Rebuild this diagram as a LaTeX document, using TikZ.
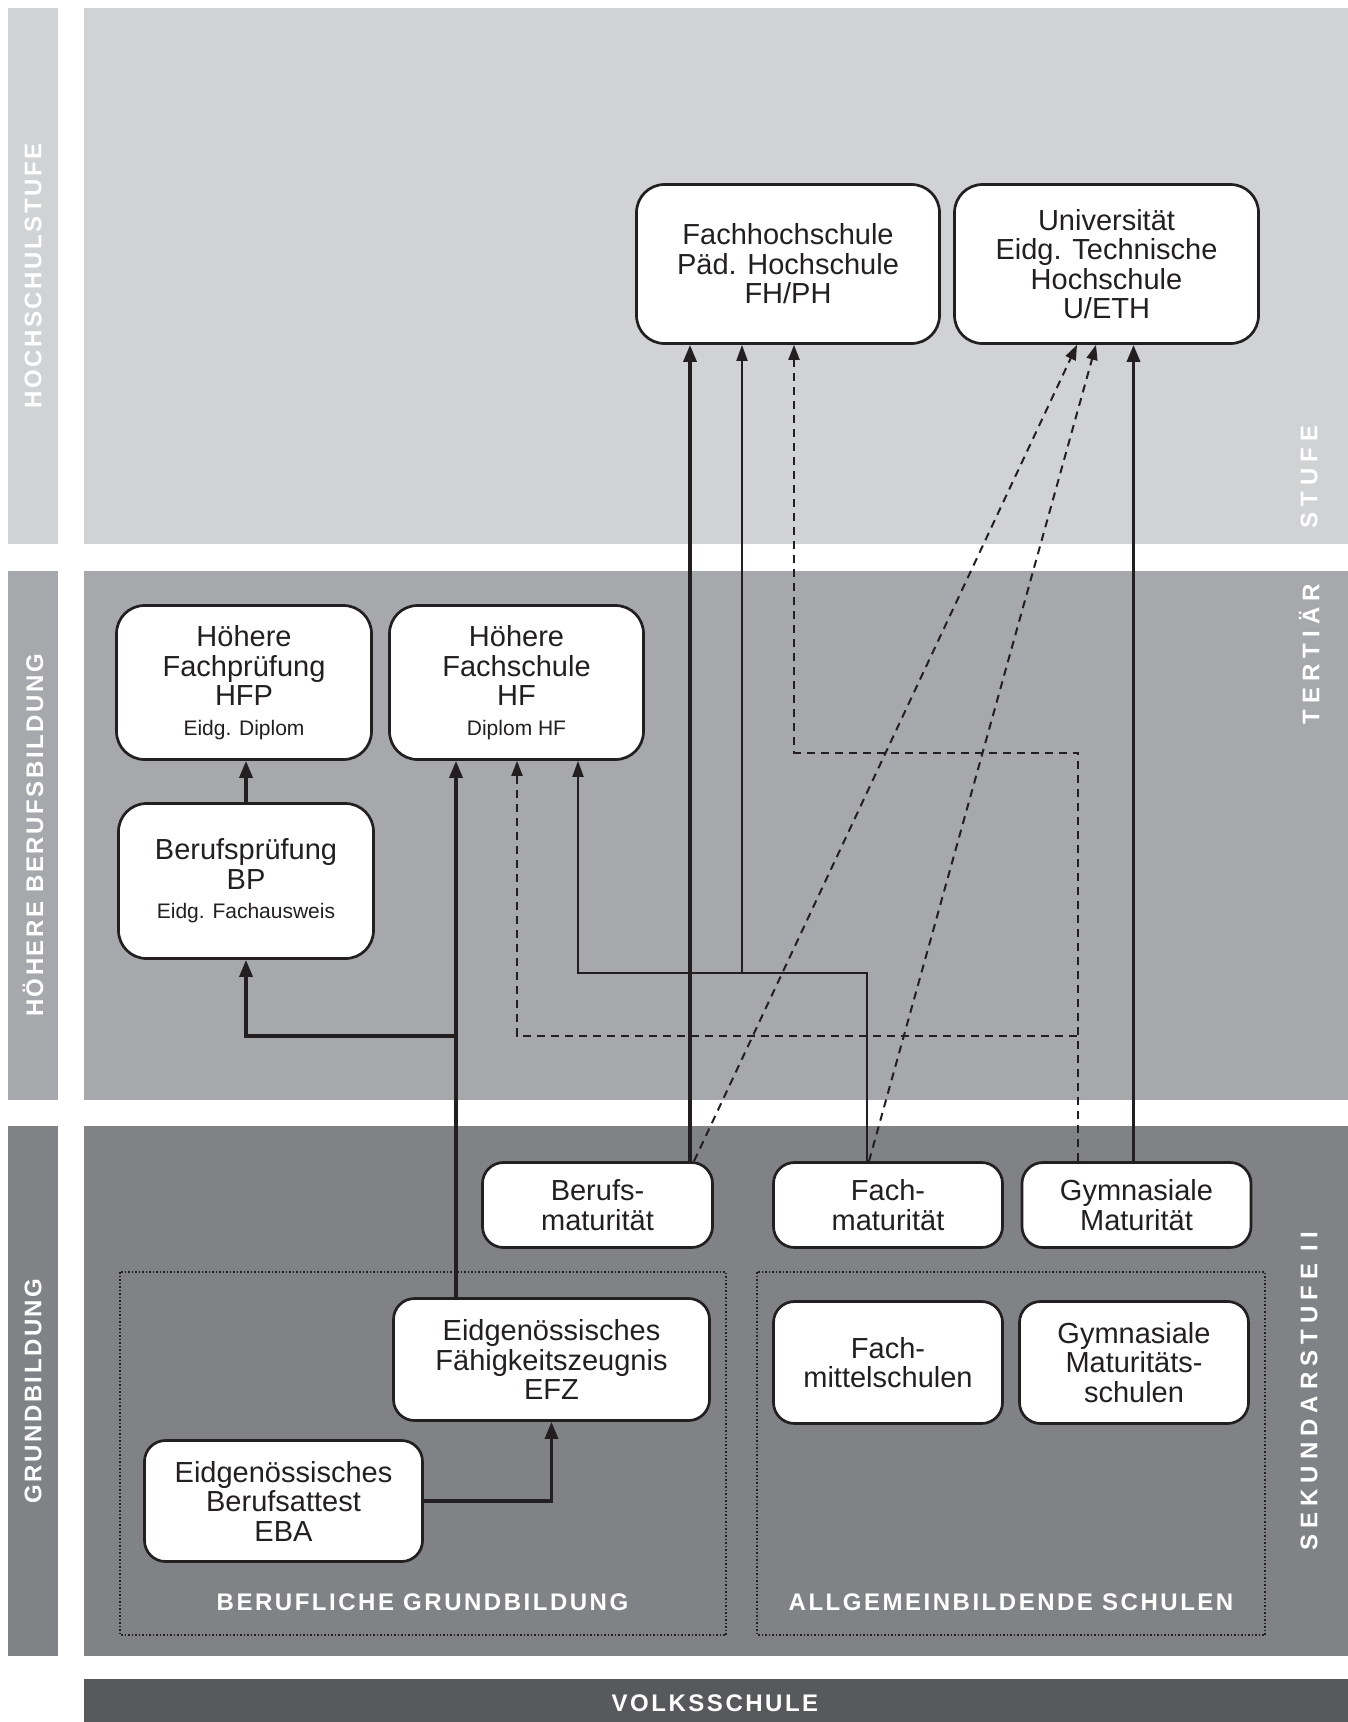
\documentclass[tikz,border=0pt]{standalone}
\usepackage{fontspec}
\setmainfont{Liberation Sans}
\newfontfamily\trackA[LetterSpace=10.5]{Liberation Sans Bold}
\newfontfamily\trackB[LetterSpace=25]{Liberation Sans Bold}
\usetikzlibrary{arrows.meta}
\definecolor{bandA}{HTML}{D1D2D4}
\definecolor{bandB}{HTML}{A7A8AB}
\definecolor{bandC}{HTML}{808285}
\definecolor{bandD}{HTML}{58595B}
\definecolor{ink}{HTML}{231F20}
\begin{document}
\begin{tikzpicture}[x=1pt,y=-1pt,
  box/.style={draw=ink, line width=2.7pt, fill=white, rounded corners=28pt, align=center,
    inner sep=0pt, text=ink, font=\fontsize{29}{29.5}\selectfont},
  sbox/.style={box, rounded corners=21pt},
  thickarr/.style={draw=ink, line width=3.4pt, -{Triangle[length=17pt,width=13pt]}},
  thinarr/.style={draw=ink, line width=2pt, -{Triangle[length=16pt,width=11pt]}},
  dasharr/.style={draw=ink, line width=2pt, dash pattern=on 8pt off 6pt, -{Triangle[length=15pt,width=11pt]}},
  grp/.style={draw=ink, line width=1.5pt, dash pattern=on 1.5pt off 2pt},
  lab/.style={text=white, inner sep=0pt, font=\trackA\fontsize{24}{24}\selectfont},
  rlab/.style={text=white, inner sep=0pt, rotate=90, font=\trackB\fontsize{24}{24}\selectfont},
]
\useasboundingbox (0,0) rectangle (1348,1722);
\fill[white] (0,0) rectangle (1348,1722);
% bands
\fill[bandA] (8,8) rectangle (58,544);
\fill[bandA] (84,8) rectangle (1348,544);
\fill[bandB] (8,571) rectangle (58,1100);
\fill[bandB] (84,571) rectangle (1348,1100);
\fill[bandC] (8,1126) rectangle (58,1656);
\fill[bandC] (84,1126) rectangle (1348,1656);
\fill[bandD] (84,1679) rectangle (1348,1722);
% band labels
\node[lab, rotate=90] (lhs) at (33,276) {HOCHSCHULSTUFE};
\node[lab, rotate=90] (lhb) at (33,835.5) {HÖHERE BERUFSBILDUNG};
\node[lab, rotate=90] (lgb) at (33,1391) {GRUNDBILDUNG};
\node[rlab] (rst) at (1309,477) {STUFE};
\node[rlab] (rte) at (1309,654) {TERTIÄR};
\node[rlab] (rsk) at (1309,1391) {SEKUNDARSTUFE II};
\node[lab] (lvs) at (715,1703) {VOLKSSCHULE};
% group frames
\draw[grp] (120,1272) rectangle (726,1635);
\draw[grp] (757,1272) rectangle (1265,1635);
\node[lab] (lbg) at (422.5,1602) {BERUFLICHE GRUNDBILDUNG};
\node[lab] (las) at (1011,1602) {ALLGEMEINBILDENDE SCHULEN};
% boxes
\node[box, minimum width=303pt, minimum height=159pt] (fh) at (788,264)
  {Fachhochschule\\Päd. Hochschule\\FH/PH};
\node[box, minimum width=304pt, minimum height=159pt] (uni) at (1106.5,264)
  {Universität\\Eidg. Technische\\Hochschule\\U/ETH};
\node[box, minimum width=255pt, minimum height=154pt] (hfp) at (244,682.5)
  {Höhere\\Fachprüfung\\HFP\\{\fontsize{21}{29.5}\selectfont Eidg. Diplom}};
\node[box, minimum width=254pt, minimum height=154pt] (hf) at (516.5,682.5)
  {Höhere\\Fachschule\\HF\\{\fontsize{21}{29.5}\selectfont Diplom HF}};
\node[box, minimum width=255pt, minimum height=155pt] (bp) at (246,881)
  {Berufsprüfung\\BP\\{\fontsize{21}{30.5}\selectfont Eidg. Fachausweis}};
\node[sbox, minimum width=230pt, minimum height=85pt] (bm) at (597.5,1205)
  {Berufs-\\maturität};
\node[sbox, minimum width=229pt, minimum height=85pt] (fm) at (888,1205)
  {Fach-\\maturität};
\node[sbox, minimum width=229pt, minimum height=85pt] (gm) at (1136.5,1205)
  {Gymnasiale\\Maturität};
\node[sbox, minimum width=316pt, minimum height=122pt] (efz) at (551.5,1359.5)
  {Eidgenössisches\\Fähigkeitszeugnis\\EFZ};
\node[sbox, minimum width=278pt, minimum height=121pt] (eba) at (283.5,1501)
  {Eidgenössisches\\Berufsattest\\EBA};
\node[sbox, minimum width=229pt, minimum height=122pt] (fms) at (888,1362.5)
  {Fach-\\mittelschulen};
\node[sbox, minimum width=229pt, minimum height=122pt] (gms) at (1134,1362.5)
  {Gymnasiale\\Maturitäts-\\schulen};
% helper coordinates
\coordinate (xbmA) at (690,0);
\coordinate (xbmB) at (694,0);
\coordinate (xuA) at (1077,0);
\coordinate (xuB) at (1096,0);
\coordinate (xfmA) at (866.5,0);
\coordinate (xfmB) at (869,0);
\coordinate (xgmA) at (1078,0);
\coordinate (xgmB) at (1133.5,0);
\coordinate (xefz) at (456,0);
\coordinate (jf) at (742,973);
\coordinate (hfthin) at (578,973);
\coordinate (gd1) at (794,752.5);
\coordinate (gd2) at (517,1036);
\coordinate (jb) at (456,1036);
% connectors
\draw[thickarr] (bm.north -| xbmA) -- (fh.south -| xbmA);
\draw[dasharr] (bm.north -| xbmB) -- (uni.south -| xuA);
\draw[thinarr] (fm.north -| xfmA) |- (hfthin) -- (hf.south -| hfthin);
\draw[thinarr] (jf) -- (fh.south -| jf);
\draw[dasharr] (fm.north -| xfmB) -- (uni.south -| xuB);
\draw[thickarr] (gm.north -| xgmB) -- (uni.south -| xgmB);
\draw[dasharr] (gm.north -| xgmA) |- (gd1) -- (fh.south -| gd1);
\draw[dasharr] (gm.north -| xgmA) |- (gd2) -- (hf.south -| gd2);
\draw[thickarr] (efz.north -| xefz) -- (hf.south -| xefz);
\draw[thickarr] (jb) -| (bp.south);
\draw[thickarr] (bp.north) -- (bp.north |- hfp.south);
\draw[thickarr] (eba.east) -| (efz.south);
\end{tikzpicture}
\end{document}
